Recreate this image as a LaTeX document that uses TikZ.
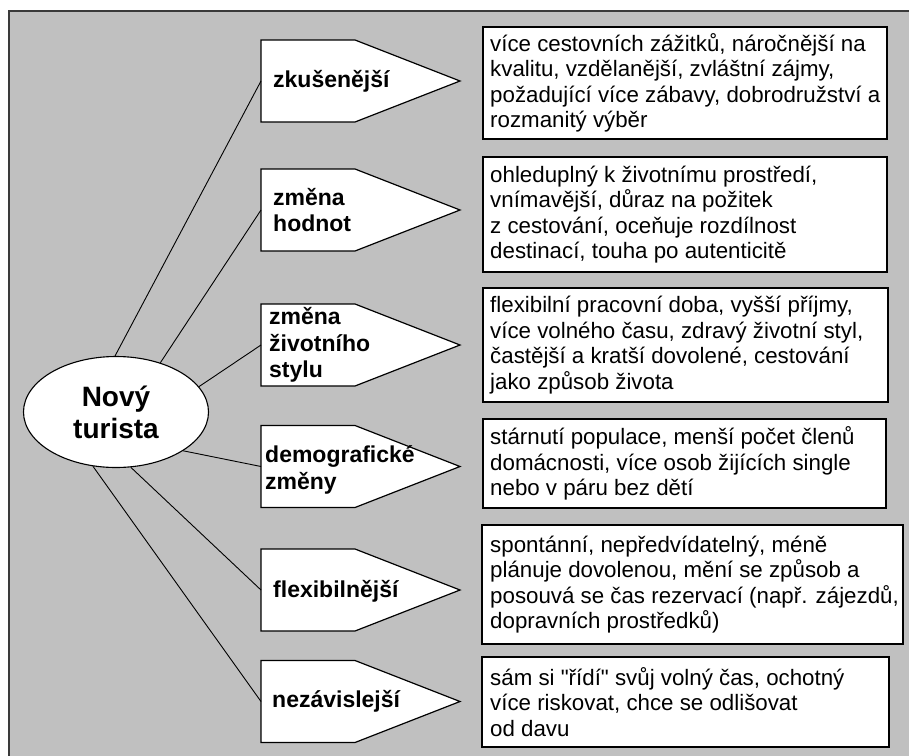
\documentclass[tikz,border=0pt]{standalone}
\usepackage{fontspec}
\setmainfont{Liberation Sans}[Ligatures=TeXOff]
\usetikzlibrary{shapes.geometric}
\definecolor{bgfill}{HTML}{C0C0C0}
\definecolor{framecol}{HTML}{3A3A3A}
\tikzset{
  hubst/.style={ellipse, draw=black, fill=white, line width=1.1pt, minimum width=185pt, minimum height=111pt, inner sep=0pt, align=center, font=\bfseries\fontsize{28}{32}\selectfont},
  arrowhold/.style={minimum width=199pt, minimum height=82pt, inner sep=0pt, outer sep=0pt},
  arrowline/.style={draw=black, fill=white, line width=1.2pt, line join=miter},
  lbl/.style={anchor=west, inner sep=0pt, align=left, font=\bfseries\fontsize{23}{26.5}\selectfont},
  boxst/.style={draw=black, fill=white, line width=1.3pt, anchor=north west, inner sep=0pt, outer sep=0pt},
  desc/.style={anchor=west, inner sep=0pt, align=left, font=\fontsize{22.3}{25.4}\selectfont},
  conn/.style={draw=black, line width=0.9pt}
}
\newcommand{\pentagon}[1]{\draw[arrowline] (#1.north west) -- ([xshift=94pt]#1.north west) -- (#1.east) -- ([xshift=94pt]#1.south west) -- (#1.south west) -- cycle;}
\begin{document}
\begin{tikzpicture}[x=1pt,y=-1pt]
\useasboundingbox (0,0) rectangle (909,755);
\clip (0,0) rectangle (909,755);
\fill[white] (0,0) rectangle (909,755);
\draw[draw=framecol, fill=bgfill, line width=1.8pt] (9,11) rectangle (930,780);

% hub
\node[hubst] (hub) at (116,412) {Nový\\turista};

% arrows
\node[arrowhold] (a1) at (360.5,81) {};
\node[arrowhold] (a2) at (360.5,210) {};
\node[arrowhold] (a3) at (360.5,345) {};
\node[arrowhold] (a4) at (360.5,466.5) {};
\node[arrowhold] (a5) at (360.5,590) {};
\node[arrowhold] (a6) at (360.5,701.5) {};
\pentagon{a1}
\pentagon{a2}
\pentagon{a3}
\pentagon{a4}
\pentagon{a5}
\pentagon{a6}

\node[lbl] (l1) at (273,81) {zkušenější};
\node[lbl] (l2) at (273,210) {změna\\hodnot};
\node[lbl] (l3) at (269,345) {změna\\životního\\stylu};
\node[lbl] (l4) at (265,470) {demografické\\změny};
\node[lbl] (l5) at (273,591) {flexibilnější};
\node[lbl] (l6) at (272,701) {nezávislejší};

% connectors
\draw[conn] (hub.91) -- (a1.west);
\draw[conn] (hub.48) -- (a2.west);
\draw[conn] (hub.17) -- (a3.west);
\draw[conn] (hub.-30) -- (a4.west);
\draw[conn] (hub.-75) -- (a5.west);
\draw[conn] (hub.-113) -- (a6.west);

% description boxes
\node[boxst, minimum width=404pt, minimum height=112pt] (b1) at (483,27) {};
\node[boxst, minimum width=404pt, minimum height=115pt] (b2) at (483,157) {};
\node[boxst, minimum width=405pt, minimum height=114pt] (b3) at (483,288) {};
\node[boxst, minimum width=403pt, minimum height=89pt] (b4) at (483,419) {};
\node[boxst, minimum width=421pt, minimum height=119pt] (b5) at (482,525) {};
\node[boxst, minimum width=407pt, minimum height=90pt] (b6) at (482,657) {};

\node[desc] (t1) at ([xshift=7pt]b1.west) {více cestovních zážitků, náročnější na\\kvalitu, vzdělanější, zvláštní zájmy,\\požadující více zábavy, dobrodružství a\\rozmanitý výběr};
\node[desc] (t2) at ([xshift=7pt]b2.west) {ohleduplný k životnímu prostředí,\\vnímavější, důraz na požitek\\z cestování, oceňuje rozdílnost\\destinací, touha po autenticitě};
\node[desc] (t3) at ([xshift=7pt]b3.west) {flexibilní pracovní doba, vyšší příjmy,\\více volného času, zdravý životní styl,\\častější a kratší dovolené, cestování\\jako způsob života};
\node[desc] (t4) at ([xshift=7pt]b4.west) {stárnutí populace, menší počet členů\\domácnosti, více osob žijících single\\nebo v páru bez dětí};
\node[desc] (t5) at ([xshift=8pt]b5.west) {spontánní, nepředvídatelný, méně\\plánuje dovolenou, mění se způsob a\\posouvá se čas rezervací (např. zájezdů,\\dopravních prostředků)};
\node[desc] (t6) at ([xshift=8pt]b6.west) {sám si "řídí" svůj volný čas, ochotný\\více riskovat, chce se odlišovat\\od davu};
\end{tikzpicture}
\end{document}
